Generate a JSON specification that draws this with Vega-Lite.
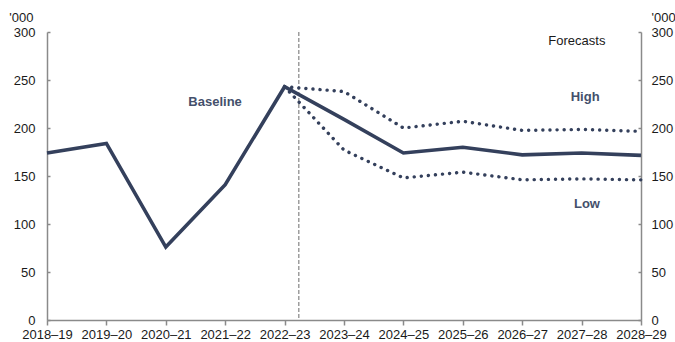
{
  "$schema": "https://vega.github.io/schema/vega-lite/v6.json",
  "autosize": {"type": "none"},
  "padding": {"left": 47, "top": 32, "right": 34, "bottom": 22},
  "width": 594,
  "height": 288,
  "config": {
    "view": {"stroke": null},
    "font": "Liberation Sans",
    "axis": {
      "grid": false,
      "domainColor": "#8a8a8a",
      "domainWidth": 1.5,
      "tickColor": "#8a8a8a",
      "tickWidth": 1.5,
      "labelFont": "Liberation Sans",
      "labelFontSize": 13,
      "labelColor": "#1a1a1a",
      "titleFont": "Liberation Sans",
      "titleFontSize": 13,
      "titleFontWeight": "normal",
      "titleColor": "#1a1a1a"
    }
  },
  "datasets": {
    "series": [
      {"year": 2018, "series": "Baseline", "value": 174},
      {"year": 2019, "series": "Baseline", "value": 184},
      {"year": 2020, "series": "Baseline", "value": 76},
      {"year": 2021, "series": "Baseline", "value": 141},
      {"year": 2022, "series": "Baseline", "value": 243},
      {"year": 2023, "series": "Baseline", "value": 209},
      {"year": 2024, "series": "Baseline", "value": 174},
      {"year": 2025, "series": "Baseline", "value": 180},
      {"year": 2026, "series": "Baseline", "value": 172},
      {"year": 2027, "series": "Baseline", "value": 174},
      {"year": 2028, "series": "Baseline", "value": 171.5},
      {"year": 2022, "series": "High", "value": 243},
      {"year": 2023, "series": "High", "value": 238},
      {"year": 2024, "series": "High", "value": 200},
      {"year": 2025, "series": "High", "value": 207},
      {"year": 2026, "series": "High", "value": 197.5},
      {"year": 2027, "series": "High", "value": 198.5},
      {"year": 2028, "series": "High", "value": 196.5},
      {"year": 2022, "series": "Low", "value": 243},
      {"year": 2023, "series": "Low", "value": 177},
      {"year": 2024, "series": "Low", "value": 148},
      {"year": 2025, "series": "Low", "value": 154},
      {"year": 2026, "series": "Low", "value": 146},
      {"year": 2027, "series": "Low", "value": 147},
      {"year": 2028, "series": "Low", "value": 146}
    ],
    "forecastStart": [{"year": 2022.24}],
    "seriesLabels": [
      {"year": 2020.83, "value": 227, "text": "Baseline"},
      {"year": 2027.06, "value": 232, "text": "High"},
      {"year": 2027.09, "value": 121, "text": "Low"}
    ],
    "notes": [
      {"year": 2026.92, "value": 290.5, "text": "Forecasts"}
    ]
  },
  "encoding": {
    "x": {
      "field": "year",
      "type": "quantitative",
      "scale": {"domain": [2018, 2028], "nice": false, "zero": false},
      "axis": {
        "title": null,
        "values": [2018, 2019, 2020, 2021, 2022, 2023, 2024, 2025, 2026, 2027, 2028],
        "labelExpr": "datum.value + '–' + substring(toString(datum.value + 1), 2)",
        "tickSize": 5,
        "labelPadding": 3,
        "labelFlush": false,
        "labelOverlap": false
      }
    },
    "y": {
      "field": "value",
      "type": "quantitative",
      "scale": {"domain": [0, 300], "nice": false}
    }
  },
  "layer": [
    {
      "data": {"name": "forecastStart"},
      "mark": {"type": "rule", "color": "#6b6b6b", "strokeWidth": 1, "strokeDash": [4, 2]},
      "encoding": {"y": null}
    },
    {
      "data": {"name": "series"},
      "transform": [{"filter": "datum.series !== 'Baseline'"}],
      "mark": {
        "type": "line",
        "color": "#34405c",
        "strokeWidth": 3.4,
        "strokeCap": "round",
        "strokeDash": [0.1, 7]
      },
      "encoding": {
        "detail": {"field": "series"},
        "y": {
          "field": "value",
          "type": "quantitative",
          "axis": {
            "orient": "left",
            "title": "'000",
            "titleAngle": 0,
            "titleAlign": "right",
            "titleBaseline": "middle",
            "titleX": -14,
            "titleY": -15,
            "values": [0, 50, 100, 150, 200, 250, 300],
            "tickSize": -3,
            "labelPadding": 15
          }
        }
      }
    },
    {
      "data": {"name": "series"},
      "transform": [{"filter": "datum.series === 'Baseline'"}],
      "mark": {"type": "line", "color": "#34405c", "strokeWidth": 3.6, "strokeJoin": "miter"},
      "encoding": {
        "y": {
          "field": "value",
          "type": "quantitative",
          "axis": {
            "orient": "right",
            "title": "'000",
            "titleAngle": 0,
            "titleAlign": "left",
            "titleBaseline": "middle",
            "titleX": 10,
            "titleY": -15,
            "values": [0, 50, 100, 150, 200, 250, 300],
            "tickSize": -3,
            "labelPadding": 13
          }
        }
      }
    },
    {
      "data": {"name": "seriesLabels"},
      "mark": {"type": "text", "fontSize": 13, "fontWeight": "bold", "color": "#44506b", "align": "center", "baseline": "middle"},
      "encoding": {
        "text": {"field": "text"},
        "y": {"field": "value", "type": "quantitative", "axis": null}
      }
    },
    {
      "data": {"name": "notes"},
      "mark": {"type": "text", "fontSize": 13, "color": "#1a1a1a", "align": "center", "baseline": "middle"},
      "encoding": {
        "text": {"field": "text"},
        "y": {"field": "value", "type": "quantitative", "axis": null}
      }
    }
  ],
  "resolve": {"axis": {"y": "independent"}}
}
